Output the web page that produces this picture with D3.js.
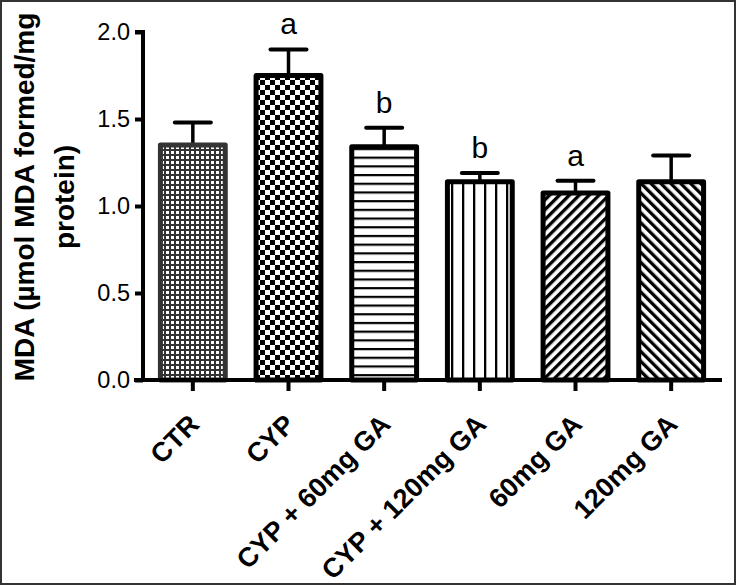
<!DOCTYPE html>
<html>
<head>
<meta charset="utf-8">
<script src="https://cdn.jsdelivr.net/npm/d3@7"></script>
<style>
  body { margin: 0; background: #fff; }
  svg { display: block; font-family: "Liberation Sans", Arial, sans-serif; }
</style>
</head>
<body>
<svg width="736" height="585"></svg>
<script>
// chart data
var groups = ['CTR', 'CYP', 'CYP + 60mg GA', 'CYP + 120mg GA', '60mg GA', '120mg GA']
var means = [1.35, 1.75, 1.34, 1.14, 1.075, 1.14]
var errs = [0.13, 0.15, 0.11, 0.05, 0.07, 0.15]
var letters = ['', 'a', 'b', 'b', 'a', '']
var yTicks = [0, 0.5, 1.0, 1.5, 2.0]
var patterns = ['fine', 'checker', 'hlines', 'vlines', 'diagUp', 'diagDown']

var svg = d3.select('svg')
var defs = svg.append('defs')

// border round the picture
svg.append('rect')
    .attr('x', 1).attr('y', 1).attr('width', 734).attr('height', 583)
    .attr('fill', 'none').attr('stroke', '#333').attr('stroke-width', 2)

// fill patterns
var p = defs.append('pattern').attr('id', 'fine').attr('patternUnits', 'userSpaceOnUse')
    .attr('width', 5).attr('height', 5)
p.append('rect').attr('width', 5).attr('height', 5).attr('fill', '#333')
p.append('rect').attr('x', 1).attr('y', 1).attr('width', 3).attr('height', 3).attr('fill', '#fff')

p = defs.append('pattern').attr('id', 'checker').attr('patternUnits', 'userSpaceOnUse')
    .attr('width', 10).attr('height', 10)
p.append('rect').attr('width', 10).attr('height', 10).attr('fill', '#fff')
p.append('rect').attr('width', 5).attr('height', 5).attr('fill', '#000')
p.append('rect').attr('x', 5).attr('y', 5).attr('width', 5).attr('height', 5).attr('fill', '#000')

p = defs.append('pattern').attr('id', 'hlines').attr('patternUnits', 'userSpaceOnUse')
    .attr('width', 10).attr('height', 8.7)
p.append('rect').attr('width', 10).attr('height', 8.7).attr('fill', '#fff')
p.append('rect').attr('y', 0).attr('width', 10).attr('height', 2.2).attr('fill', '#000')

p = defs.append('pattern').attr('id', 'vlines').attr('patternUnits', 'userSpaceOnUse')
    .attr('width', 11).attr('height', 10)
p.append('rect').attr('width', 11).attr('height', 10).attr('fill', '#fff')
p.append('rect').attr('x', 0).attr('width', 2.3).attr('height', 10).attr('fill', '#000')

function diag(id, angle) {
    var d = defs.append('pattern').attr('id', id).attr('patternUnits', 'userSpaceOnUse')
	.attr('width', 7).attr('height', 7)
	.attr('patternTransform', 'rotate(' + angle + ')')
    d.append('rect').attr('width', 7).attr('height', 7).attr('fill', '#fff')
    d.append('rect').attr('width', 3.3).attr('height', 7).attr('fill', '#000')
}
diag('diagUp', 45)
diag('diagDown', -45)

// scales
var plotL = 145, plotR = 719, plotT = 32, plotB = 380
var x = d3.scaleBand().domain(groups).range([plotL, plotR]).paddingInner(0.27).paddingOuter(0.135)
var y = d3.scaleLinear().domain([0, 2]).range([plotB, plotT])

// error bars (drawn first so the bar stroke covers the stem)
var eb = svg.append('g')
groups.forEach(function(g, i) {
    var cx = x(g) + x.bandwidth() / 2
    eb.append('line')
	.attr('x1', cx).attr('x2', cx)
	.attr('y1', y(means[i])).attr('y2', y(means[i] + errs[i]))
	.attr('stroke', '#000').attr('stroke-width', 3.5)
    eb.append('line')
	.attr('x1', cx - 18).attr('x2', cx + 18)
	.attr('y1', y(means[i] + errs[i])).attr('y2', y(means[i] + errs[i]))
	.attr('stroke', '#000').attr('stroke-width', 4).attr('stroke-linecap', 'round')
})

// bars
svg.append('g').selectAll('rect')
    .data(groups)
    .enter().append('rect')
    .attr('x', function(d) { return x(d) + 2.5 })
    .attr('width', x.bandwidth() - 5)
    .attr('y', function(d, i) { return y(means[i]) })
    .attr('height', function(d, i) { return plotB - y(means[i]) })
    .attr('fill', function(d, i) { return 'url(#' + patterns[i] + ')' })
    .attr('stroke', function(d, i) { return i == 0 ? '#333' : '#000' })
    .attr('stroke-width', 5)
    .attr('stroke-linejoin', 'round')

// significance letters
svg.append('g').selectAll('text')
    .data(groups)
    .enter().append('text')
    .attr('x', function(d) { return x(d) + x.bandwidth() / 2 })
    .attr('y', function(d, i) { return y(means[i] + errs[i]) - 15 })
    .attr('text-anchor', 'middle')
    .attr('font-size', 30)
    .text(function(d, i) { return letters[i] })

// y axis
var yAxis = svg.append('g')
    .attr('transform', 'translate(143,0)')
    .call(d3.axisLeft(y).tickValues(yTicks).tickFormat(d3.format('.1f')).tickSize(8).tickPadding(5))
yAxis.select('.domain').attr('stroke-width', 4).attr('d', 'M-8,' + plotT + 'H0V' + plotB)
yAxis.selectAll('.tick line').attr('stroke-width', 4)
yAxis.selectAll('.tick text').attr('font-size', 23.5).attr('fill', '#000')

// x axis
var xAxis = svg.append('g')
    .attr('transform', 'translate(0,' + plotB + ')')
    .call(d3.axisBottom(x).tickSize(11).tickSizeOuter(0))
xAxis.select('.domain').attr('stroke-width', 4).attr('d', 'M134,0H722')
xAxis.selectAll('.tick line').attr('stroke-width', 4)
xAxis.selectAll('.tick text')
    .attr('font-size', 27).attr('font-weight', 'bold').attr('fill', '#000')
    .attr('text-anchor', 'end')
    .attr('y', 0).attr('dy', 0)
    .attr('transform', 'translate(8,46) rotate(-45)')

// y title
var title = svg.append('text')
    .attr('transform', 'translate(34,197) rotate(-90)')
    .attr('text-anchor', 'middle')
    .attr('font-size', 28).attr('font-weight', 'bold')
title.append('tspan').attr('x', 0).attr('y', 0).text('MDA (\u00b5mol MDA formed/mg')
title.append('tspan').attr('x', 0).attr('y', 40).text('protein)')
</script>
</body>
</html>
